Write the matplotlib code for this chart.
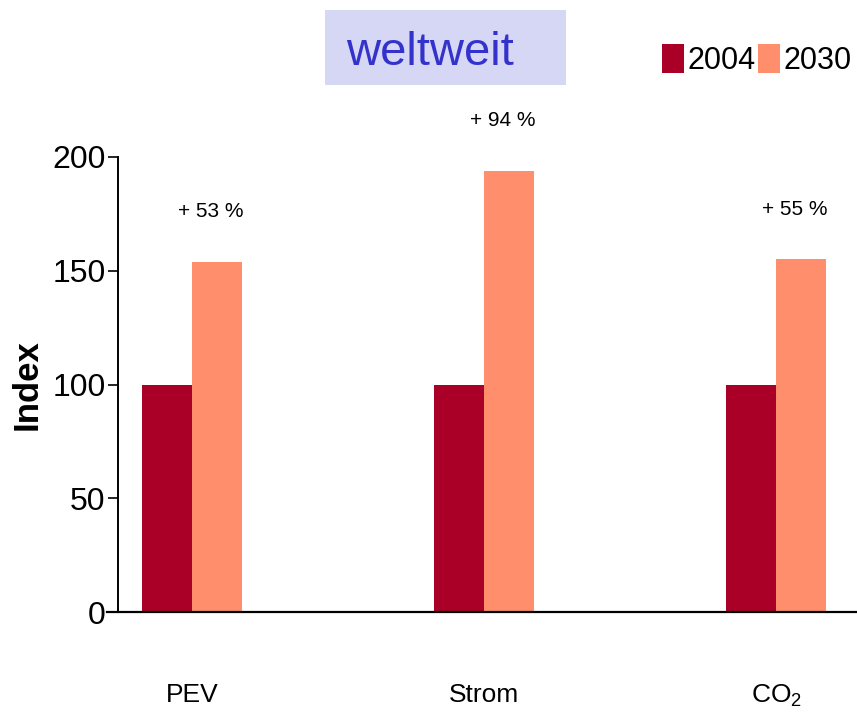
import matplotlib
matplotlib.use("Agg")
import matplotlib.pyplot as plt
from matplotlib.patches import Rectangle
import numpy as np

categories = ["PEV", "Strom", "CO$_2$"]
series_names = ["2004", "2030"]
values_2004 = [100, 100, 100]
values_2030 = [154, 194, 155]
change_labels = ["+ 53 %", "+ 94 %", "+ 55 %"]
y_ticks = [0, 50, 100, 150, 200]

c2004 = "#aa0028"
c2030 = "#ff8f6c"

plt.rcParams["font.family"] = ["Liberation Sans", "DejaVu Sans"]
plt.rcParams["mathtext.fontset"] = "custom"
plt.rcParams["mathtext.rm"] = "Liberation Sans"
plt.rcParams["mathtext.it"] = "Liberation Sans"

W, H = 857, 723
fig = plt.figure(figsize=(W / 100, H / 100), dpi=100)
fig.patch.set_facecolor("white")

ax = fig.add_axes([107 / W, 1 - 612 / H, (857 - 107) / W, (612 - 157) / H])
x = np.arange(len(categories))
bw = 0.171
b1 = ax.bar(x - bw / 2, values_2004, bw, color=c2004, label=series_names[0])
b2 = ax.bar(x + bw / 2, values_2030, bw, color=c2030, label=series_names[1])

ax.set_xlim(-0.291, 2.277)
ax.set_ylim(0, 200)

for s in ["top", "right"]:
    ax.spines[s].set_visible(False)
ax.spines["left"].set_position(("data", -0.253))
ax.spines["left"].set_bounds(0, 200)
ax.spines["left"].set_linewidth(1.4)
ax.spines["bottom"].set_linewidth(1.6)

ax.set_yticks(y_ticks)
ax.set_yticklabels([str(t) for t in y_ticks])
ax.tick_params(axis="y", direction="out", length=7, width=1.2, pad=2, labelsize=23)
ax.set_xticks(x)
ax.set_xticklabels(categories)
ax.tick_params(axis="x", length=0, pad=51, labelsize=19)

for xi, v, lab in zip(x, values_2030, change_labels):
    ax.text(xi + bw / 2 - 0.02, v + 22, lab, ha="center", va="center",
            fontsize=15, clip_on=False)

ax.set_ylabel("Index", fontsize=25, fontweight="bold", labelpad=0)
ax.yaxis.set_label_coords(-0.084, 0.5)

leg = fig.legend(handles=[b1, b2], labels=series_names, loc="upper right",
                 bbox_to_anchor=(852 / W, 1 - 44 / H), ncol=2, frameon=False,
                 fontsize=22, handlelength=0.72, handleheight=1.08,
                 handletextpad=0.13, columnspacing=0.06, borderpad=0,
                 borderaxespad=0)

fig.patches.append(Rectangle((325 / W, 1 - 85 / H), 241 / W, 75 / H,
                             transform=fig.transFigure, facecolor="#d6d6f5",
                             edgecolor="none", zorder=0))
fig.text(430 / W, 1 - 65 / H, "weltweit", ha="center", va="baseline",
         fontsize=34, color="#3333cc")

fig.savefig("out.png", dpi=100)
